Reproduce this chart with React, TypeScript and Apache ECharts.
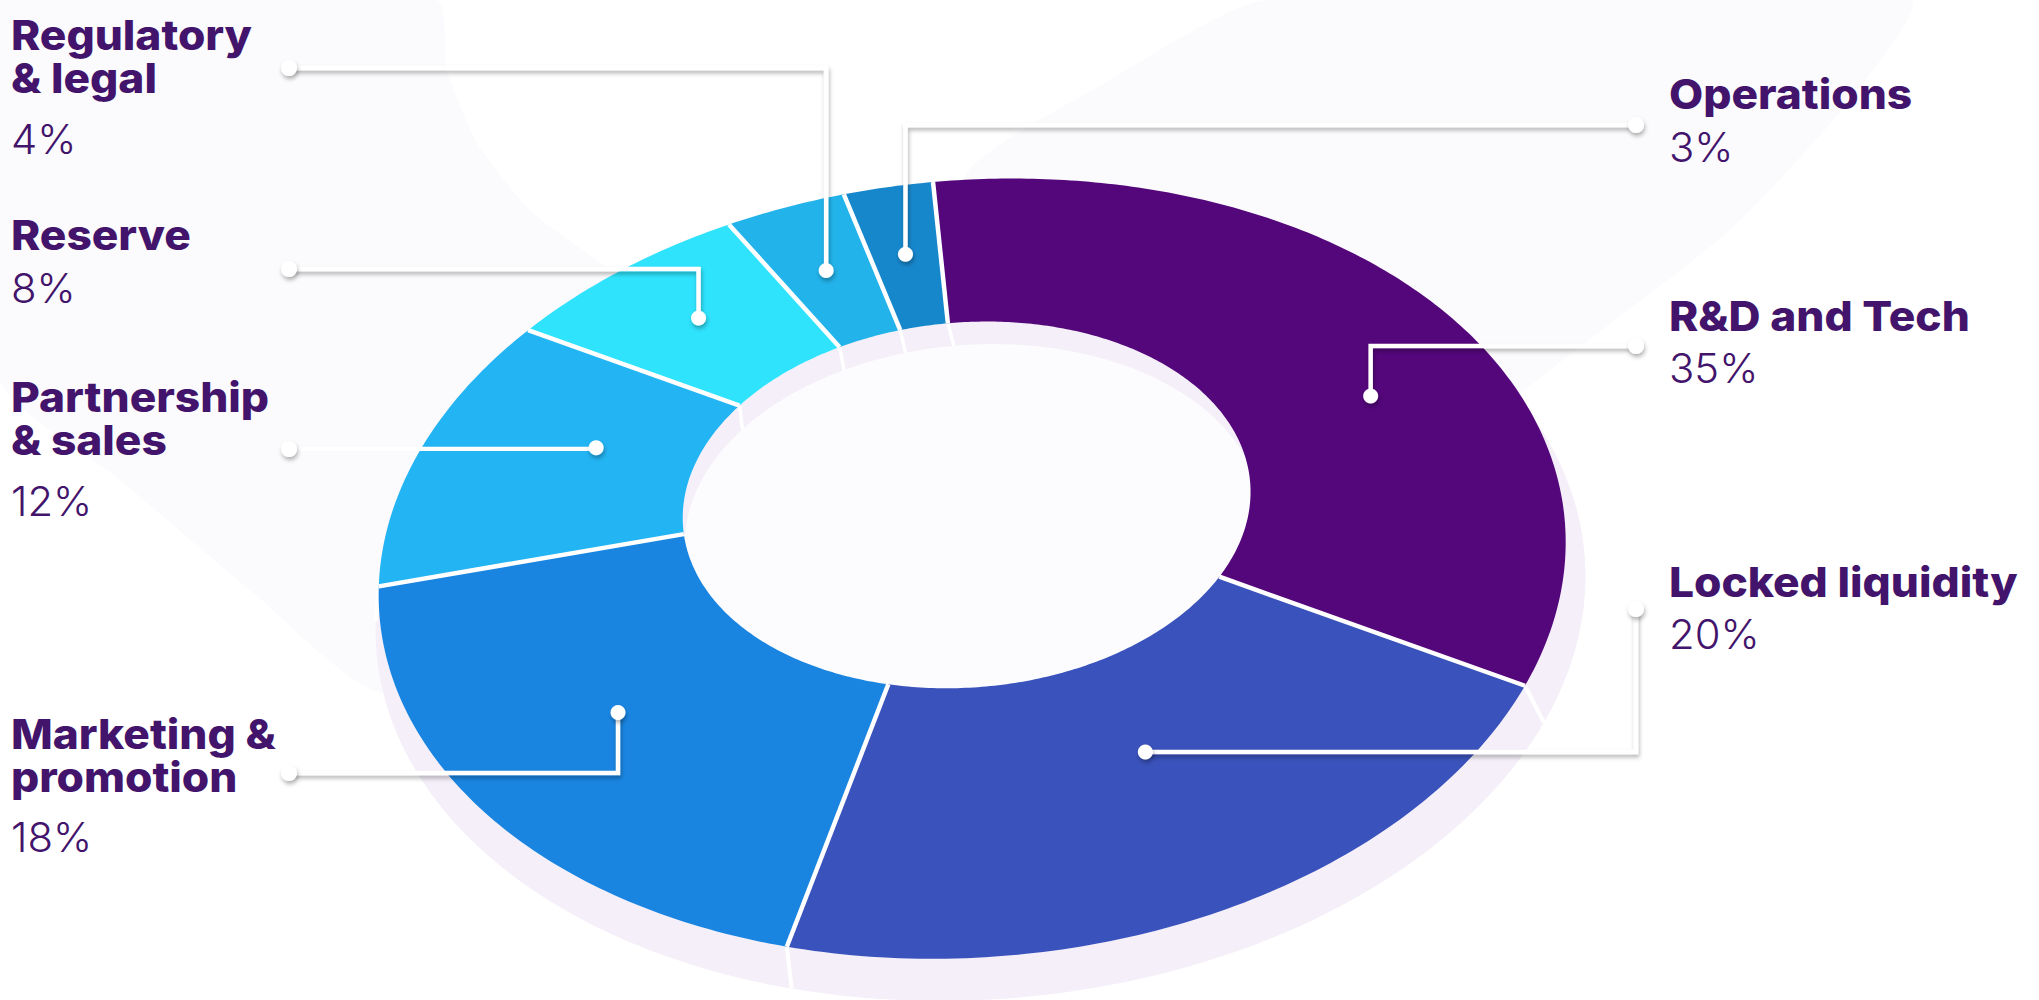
import React, { useEffect, useRef } from "react";
import * as echarts from "echarts";

// ---- data ----
const categories = [
  "R&D and Tech",
  "Locked liquidity",
  "Marketing & promotion",
  "Partnership & sales",
  "Reserve",
  "Regulatory & legal",
  "Operations",
];
const labelLines = [
  "R&D and Tech",
  "Locked liquidity",
  "Marketing &\npromotion",
  "Partnership\n& sales",
  "Reserve",
  "Regulatory\n& legal",
  "Operations",
];
const values = [35, 20, 18, 12, 8, 4, 3];
const colors = ["#54067b", "#3a52bb", "#1a85e1", "#23b4f3", "#2fe3fd", "#22b3ea", "#1787cc"];

// ---- label layout (positions only) ----
const anchorFrac = [0.623, 0.486, 0.5, 0.56, 0.5, 0.5, 0.5];
const anchorR = [0.75, 0.69, 0.74, 0.68, 0.75, 0.74, 0.74];
const labelSide = ["right", "right", "left", "left", "left", "left", "right"];
const leaderEndY = [346, 609, 773, 449, 269, 68, 125];
const leaderMode = ["v", "h", "v", "v", "v", "v", "v"];
const nameBaseY = [331, 597, 749, 412, 250, 50, 109];
const valueBaseY = [383, 649, 852, 516, 303, 154, 162];

// ---- projection (perspective of a flat ring) ----
const CX = 965, CY = 486;
const HA = 578.5, HB = -38.8, HC = -51.6, HD = -368.9, HP = 0.0025, HQ = 0.2135;
const INNER = 0.487;
const VX = 537, VY = -1233, KOUT = 1.0192, KIN = 1.0145;
const LEFT_END_X = 289, RIGHT_END_X = 1636;
const LEFT_TEXT_X = 11, RIGHT_TEXT_X = 1669;
const TEXT_COLOR = "#43146b";
const WALL = "#f4eff8";
const FONT = "Inter";
const NAME_SCALE_X = 1.08;

function proj(aDeg: number, r: number): number[] {
  const a = (aDeg * Math.PI) / 180;
  const X = r * Math.sin(a), Y = r * Math.cos(a);
  const d = 1 + HP * X + HQ * Y;
  return [CX + (HA * X + HB * Y) / d, CY + (HC * X + HD * Y) / d];
}
function drop(p: number[], k: number): number[] {
  return [VX + k * (p[0] - VX), VY + k * (p[1] - VY)];
}
function arc(a0: number, a1: number, r: number): number[][] {
  const n = Math.max(2, Math.ceil(Math.abs(a1 - a0) / 0.75));
  const pts: number[][] = [];
  for (let i = 0; i <= n; i++) pts.push(proj(a0 + ((a1 - a0) * i) / n, r));
  return pts;
}

const total = values.reduce((s, v) => s + v, 0);
const starts: number[] = [];
{
  let c = 0;
  values.forEach((v) => {
    starts.push((360 * c) / total);
    c += v;
  });
}
const span = (i: number) => (360 * values[i]) / total;

const lineStyle = (w: number) => ({ stroke: "#ffffff", lineWidth: w });

export default function App() {
  const ref = useRef<HTMLDivElement>(null);
  useEffect(() => {
    if (!ref.current) return;
    const chart = echarts.init(ref.current, null, { renderer: "svg" });
    const data = values.map((v, i) => ({ value: v, name: categories[i] }));

    const wallSeries = {
      type: "custom",
      coordinateSystem: "none",
      z: 2,
      silent: true,
      data,
      renderItem: (params: any) => {
        const i = params.dataIndex;
        const a0 = starts[i], a1 = a0 + span(i);
        const top = arc(a0, a1, 1);
        const bottom = arc(a1, a0, 1).map((p) => drop(p, KOUT));
        const p0 = proj(a0, 1), q0 = drop(p0, KOUT);
        return {
          type: "group",
          children: [
            { type: "polygon", z2: 0, shape: { points: top.concat(bottom) }, style: { fill: WALL } },
            { type: "line", z2: 1, shape: { x1: p0[0], y1: p0[1], x2: q0[0], y2: q0[1] }, style: lineStyle(4) },
          ],
        };
      },
    };

    const innerSeries = {
      type: "custom",
      coordinateSystem: "none",
      z: 3,
      silent: true,
      data,
      renderItem: (params: any) => {
        const i = params.dataIndex;
        const a0 = starts[i];
        const p0 = proj(a0, INNER), q0 = drop(p0, KIN);
        const children: any[] = [
          { type: "line", z2: 1, shape: { x1: p0[0], y1: p0[1], x2: q0[0], y2: q0[1] }, style: lineStyle(3.5) },
        ];
        if (i === 0) {
          children.push({ type: "polygon", z2: 0, shape: { points: arc(0, 360, INNER) }, style: { fill: WALL } });
          children.push({
            type: "polygon",
            z2: 2,
            shape: { points: arc(0, 360, INNER).map((p) => drop(p, KIN)) },
            style: { fill: "#fcfcfe" },
          });
        }
        return { type: "group", children };
      },
    };

    const faceSeries = {
      type: "custom",
      coordinateSystem: "none",
      z: 4,
      silent: true,
      data,
      renderItem: (params: any) => {
        const i = params.dataIndex;
        const a0 = starts[i], a1 = a0 + span(i);
        const pts = arc(a0, a1, 1).concat(arc(a1, a0, INNER));
        const p0 = proj(a0, 1), q0 = proj(a0, INNER);
        return {
          type: "group",
          children: [
            { type: "polygon", z2: 0, shape: { points: pts }, style: { fill: colors[i] } },
            { type: "line", z2: 1, shape: { x1: p0[0], y1: p0[1], x2: q0[0], y2: q0[1] }, style: lineStyle(4.5) },
          ],
        };
      },
    };

    const shadow = { shadowColor: "rgba(0,0,0,0.3)", shadowBlur: 4, shadowOffsetX: 1, shadowOffsetY: 3 };

    const labelSeries = {
      type: "custom",
      coordinateSystem: "none",
      z: 5,
      silent: true,
      data,
      renderItem: (params: any) => {
        const i = params.dataIndex;
        const aMid = starts[i] + span(i) * anchorFrac[i];
        const dot = proj(aMid, anchorR[i]);
        const right = labelSide[i] === "right";
        const endX = right ? RIGHT_END_X : LEFT_END_X;
        const endY = leaderEndY[i];
        const corner = leaderMode[i] === "v" ? [dot[0], endY] : [endX, dot[1]];
        const textX = right ? RIGHT_TEXT_X : LEFT_TEXT_X;
        const children: any[] = [
          {
            type: "polyline",
            z2: 0,
            shape: { points: [dot, corner, [endX, endY]] },
            style: { stroke: "#ffffff", lineWidth: 4.5, fill: null, lineJoin: "miter", ...shadow },
          },
          { type: "circle", z2: 1, shape: { cx: dot[0], cy: dot[1], r: 7.5 }, style: { fill: "#ffffff", ...shadow } },
          { type: "circle", z2: 1, shape: { cx: endX, cy: endY, r: 8 }, style: { fill: "#ffffff", ...shadow } },
          {
            type: "text",
            z2: 2,
            x: textX,
            y: nameBaseY[i] - 36,
            scaleX: NAME_SCALE_X,
            style: {
              text: labelLines[i],
              fill: TEXT_COLOR,
              fontFamily: FONT,
              fontSize: 41,
              fontWeight: 800,
              lineHeight: 43,
              textAlign: "left",
              textVerticalAlign: "top",
              align: "left",
              verticalAlign: "top",
            },
          },
          {
            type: "text",
            z2: 2,
            x: textX,
            y: valueBaseY[i] - 14.5,
            scaleX: 1.02,
            style: {
              text: `${values[i]}%`,
              fill: TEXT_COLOR,
              fontFamily: FONT,
              fontSize: 41,
              fontWeight: 300,
              textAlign: "left",
              textVerticalAlign: "middle",
              align: "left",
              verticalAlign: "middle",
            },
          },
        ];
        return { type: "group", children };
      },
    };

    const option: any = {
      animation: false,
      backgroundColor: "#ffffff",
      graphic: [
        {
          type: "polygon",
          z: 0,
          silent: true,
          shape: {
            points: [
              [0, 0], [436, 0], [447, 70], [478, 145], [532, 212], [607, 267], [700, 330], [740, 450],
              [650, 620], [383, 693], [250, 590], [120, 480], [0, 380],
            ],
            smooth: 0.2,
          },
          style: { fill: "#fbfbfd" },
        },
        {
          type: "polygon",
          z: 0,
          silent: true,
          shape: {
            points: [
              [1265, 0], [1910, 0], [1850, 100], [1730, 230], [1513, 400], [1420, 500],
              [1200, 450], [1050, 300], [965, 177], [1110, 80],
            ],
            smooth: 0.2,
          },
          style: { fill: "#fbfbfd" },
        },
      ],
      series: [wallSeries, innerSeries, faceSeries, labelSeries],
    };
    chart.setOption(option);
    return () => chart.dispose();
  }, []);
  return (
    <div
      ref={ref}
      style={{ position: "absolute", left: 0, top: 0, width: "2039px", height: "1000px" }}
    />
  );
}
